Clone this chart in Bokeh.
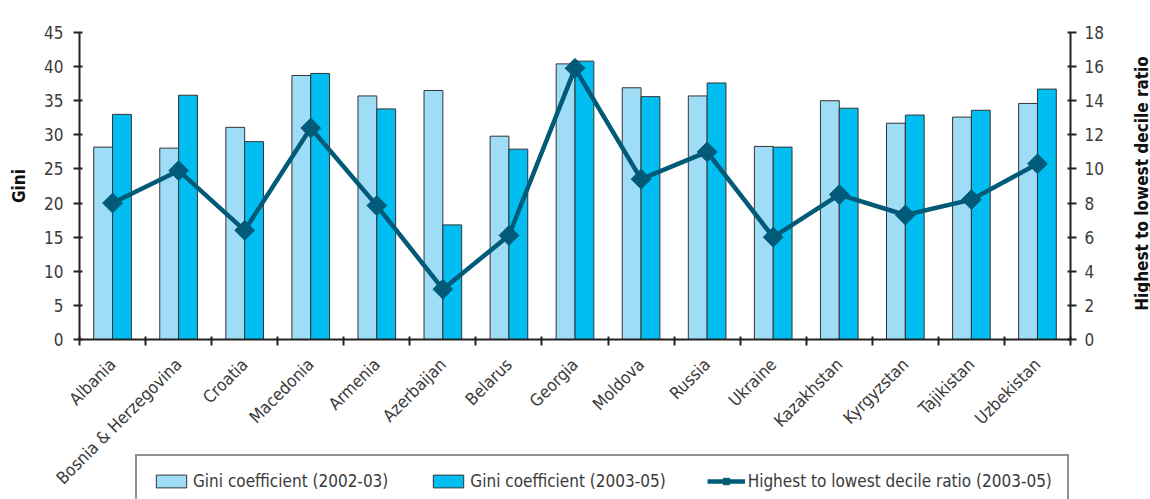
import math
from bokeh.plotting import figure
from bokeh.models import (Range1d, LinearAxis, FixedTicker, Legend, Label,
                          LegendItem, ColumnDataSource)
from bokeh.transform import dodge
from bokeh.embed import file_html
from bokeh.resources import INLINE

countries = ["Albania", "Bosnia & Herzegovina", "Croatia", "Macedonia", "Armenia",
             "Azerbaijan", "Belarus", "Georgia", "Moldova", "Russia", "Ukraine",
             "Kazakhstan", "Kyrgyzstan", "Tajikistan", "Uzbekistan"]
gini_2002_03 = [28.2, 28.05, 31.1, 38.7, 35.7, 36.5, 29.8, 40.4, 36.9, 35.7, 28.3, 35.0, 31.7, 32.6, 34.6]
gini_2003_05 = [33.0, 35.8, 29.0, 39.0, 33.8, 16.8, 27.9, 40.8, 35.6, 37.6, 28.2, 33.9, 32.9, 33.6, 36.7]
decile_ratio = [8.0, 9.9, 6.4, 12.4, 7.85, 2.95, 6.1, 15.9, 9.4, 11.0, 6.0, 8.5, 7.3, 8.2, 10.3]
gini_ticks = [0, 5, 10, 15, 20, 25, 30, 35, 40, 45]
ratio_ticks = [0, 2, 4, 6, 8, 10, 12, 14, 16, 18]

FONT = "DejaVu Sans Condensed"
TXT = "#3a3a3a"
AX = "#222222"
LIGHT = "#9fdcf6"
DARK = "#00bdf2"
LINE = "#005a78"

# Layout: the frame covers the whole canvas; axes are pinned with fixed_location
W, H = 1150, 499
FL, FT, FR = 79, 32, 1070          # pixel column of left axis, row of top tick, column of right axis
ZERO_PX = 339                       # pixel row of value 0
n = len(countries)
gmax, rmax = 45, 18
cat_px = (FR - FL) / n
px_per = (ZERO_PX - FT) / gmax
xmin, xmax = -FL / cat_px, n + (W - FR) / cat_px
ymin, ymax = -(H - ZERO_PX) / px_per, gmax + FT / px_per
k = rmax / gmax

pos = [i + 0.5 for i in range(n)]   # category slots on the x scale
src = ColumnDataSource(dict(x=pos, country=countries, g1=gini_2002_03, g2=gini_2003_05, ratio=decile_ratio))

p = figure(x_range=Range1d(xmin, xmax), y_range=Range1d(ymin, ymax),
           width=W, height=H, output_backend="svg", toolbar_location=None,
           x_axis_location=None, y_axis_location=None,
           min_border_left=0, min_border_right=0, min_border_top=0, min_border_bottom=0)
p.outline_line_color = None
p.grid.visible = False
p.extra_y_ranges = {"ratio": Range1d(ymin * k, ymax * k)}

b1 = p.vbar(x=dodge("x", -0.1425), top="g1", bottom=0, width=0.285, source=src,
            fill_color=LIGHT, line_color="#333333", line_width=1)
b2 = p.vbar(x=dodge("x", 0.1425), top="g2", bottom=0, width=0.285, source=src,
            fill_color=DARK, line_color="#333333", line_width=1)
ln = p.line(x="x", y="ratio", source=src, y_range_name="ratio", line_color=LINE, line_width=4.5)
sc = p.scatter(x="x", y="ratio", source=src, y_range_name="ratio", marker="square",
               angle=math.pi / 4, size=14, fill_color=LINE, line_color=LINE)

def style(ax, size="17px"):
    ax.axis_line_color = AX
    ax.axis_line_width = 2
    ax.major_tick_line_color = AX
    ax.major_tick_line_width = 2
    ax.major_tick_out = 6
    ax.major_tick_in = 3
    ax.minor_tick_line_color = None
    ax.major_label_text_font = FONT
    ax.major_label_text_font_size = size
    ax.major_label_text_color = TXT
    ax.axis_label_text_font = FONT
    ax.axis_label_text_font_style = "bold"
    ax.axis_label_text_font_size = "17px"
    ax.axis_label_text_color = "#111111"

left = LinearAxis(ticker=FixedTicker(ticks=gini_ticks), axis_label="Gini",
                  bounds=(0, gmax), fixed_location=0)
style(left)
left.major_label_standoff = 10
left.axis_label_standoff = 12
p.add_layout(left, "left")

right = LinearAxis(y_range_name="ratio", ticker=FixedTicker(ticks=ratio_ticks),
                   bounds=(0, rmax), fixed_location=n)
style(right)
right.major_label_standoff = 8
p.add_layout(right, "right")

right_title = Label(x=1141, y=H - 183, x_units="screen", y_units="screen",
                    text="Highest to lowest decile ratio", angle=math.pi / 2,
                    text_align="center", text_baseline="middle",
                    text_font=FONT, text_font_style="bold", text_font_size="17px",
                    text_color="#111111")
p.add_layout(right_title)

bounds = list(range(n + 1))
bottom = LinearAxis(ticker=FixedTicker(ticks=pos, minor_ticks=bounds),
                    major_label_overrides={c: name for c, name in zip(pos, countries)},
                    bounds=(0, n), fixed_location=0)
style(bottom, "17px")
bottom.major_tick_line_color = None
bottom.major_tick_out = 0
bottom.major_tick_in = 0
bottom.minor_tick_line_color = AX
bottom.minor_tick_line_width = 2
bottom.minor_tick_out = 6
bottom.minor_tick_in = 3
bottom.major_label_standoff = 16
bottom.major_label_orientation = math.pi / 4
p.add_layout(bottom, "below")

legend = Legend(items=[
    LegendItem(label="Gini coefficient (2002-03)", renderers=[b1]),
    LegendItem(label="Gini coefficient (2003-05)", renderers=[b2]),
    LegendItem(label="Highest to lowest decile ratio (2003-05)", renderers=[ln, sc]),
], location=(135, -9), orientation="horizontal", glyph_width=38, glyph_height=16,
    label_standoff=3, spacing=41, padding=15, margin=0,
    border_line_color=AX, border_line_width=2, background_fill_color="white",
    background_fill_alpha=1, label_text_font=FONT, label_text_font_size="17px",
    label_text_color=TXT)
p.add_layout(legend, "center")

open("out.html", "w").write(file_html(p, INLINE))
